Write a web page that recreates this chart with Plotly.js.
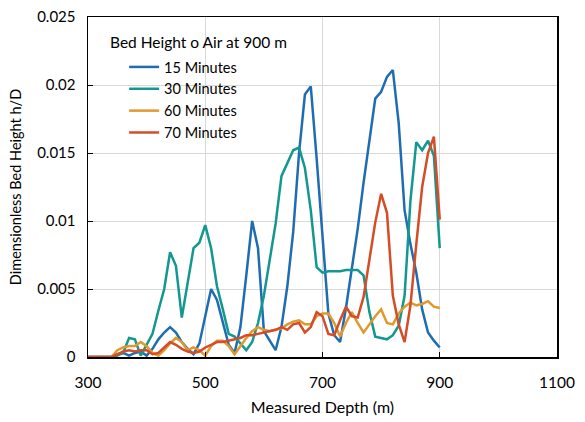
<!DOCTYPE html>
<html>
<head>
<meta charset="utf-8">
<script src="https://cdn.plot.ly/plotly-3.0.1.min.js"></script>
<style>html,body{margin:0;padding:0;background:#fff;}#chart{width:585px;height:422px;}</style>
</head>
<body>
<div id="chart"></div>
<script>
const depth = [300,310,320,330,340,350,360,370,380,390,400,410,420,430,440,450,460,470,480,490,500,510,520,530,540,550,560,570,580,590,600,610,620,630,640,650,660,670,680,690,700,710,720,730,740,750,760,770,780,790,800,810,820,830,840,850,860,870,880,890,900];

const min15 = [0,0,0,0,0,0.0002,0.0003,0.0001,0.0003,0.0004,0.0001,0.0006,0.0013,0.0018,0.0022,0.0018,0.0011,0.0006,0.0002,0.001,0.003,0.005,0.0042,0.0025,0.0009,0.0003,0.0022,0.006,0.01,0.008,0.0019,0.0012,0.0005,0.0022,0.0052,0.0092,0.015,0.0193,0.0199,0.0146,0.0088,0.0032,0.0016,0.0011,0.0036,0.0065,0.0094,0.0128,0.016,0.019,0.0195,0.0206,0.0211,0.0172,0.0108,0.0083,0.0062,0.0035,0.0018,0.0012,0.0007];

const min30 = [0,0,0,0,0,0.0001,0.0003,0.0014,0.0013,0.0001,0.0009,0.0017,0.0034,0.005,0.0077,0.0067,0.0029,0.0055,0.008,0.0084,0.0097,0.008,0.0052,0.0035,0.0017,0.0015,0.001,0.0005,0.0011,0.0025,0.0045,0.0072,0.0098,0.0133,0.0142,0.0152,0.0154,0.0139,0.0108,0.0066,0.0062,0.0063,0.0063,0.0063,0.0064,0.0064,0.0064,0.006,0.0033,0.0015,0.0014,0.0013,0.0016,0.0023,0.0045,0.0115,0.0158,0.0152,0.0159,0.0148,0.008];

const min60 = [0,0,0,0,0,0.0005,0.0007,0.0008,0.0008,0.0011,0.0008,0.0003,0.0001,0.0005,0.001,0.0014,0.0011,0.0005,0.0007,0.0005,0.0001,0.0008,0.0012,0.0012,0.0008,0.0002,0.0008,0.0014,0.0019,0.0022,0.002,0.0019,0.002,0.0021,0.0024,0.0026,0.0027,0.0024,0.0024,0.003,0.0032,0.0032,0.0025,0.0015,0.0025,0.0033,0.0025,0.0018,0.0024,0.003,0.0035,0.0025,0.0024,0.0032,0.0037,0.004,0.0038,0.0039,0.0041,0.0037,0.0036];

const min70 = [0,0,0,0,0,0.0002,0.0004,0.0005,0.0004,0.0005,0.0005,0.0002,0.0003,0.0007,0.0011,0.0009,0.0006,0.0004,0.0003,0.0004,0.0007,0.0009,0.0011,0.0011,0.0012,0.0013,0.0014,0.0016,0.0016,0.0017,0.0018,0.0019,0.002,0.0022,0.002,0.0024,0.0025,0.0018,0.0022,0.0033,0.003,0.0017,0.0016,0.0027,0.0037,0.003,0.0029,0.0044,0.0072,0.0099,0.012,0.0106,0.0045,0.0024,0.0011,0.0038,0.0083,0.0125,0.015,0.0162,0.0101];

const seriesNames = ["15 Minutes","30 Minutes","60 Minutes","70 Minutes"];
const seriesColors = ["#1f6db1","#12988f","#e0982f","#d44d27"];
const xTicks = [300,500,700,900,1100];
const yTicks = [0,0.005,0.01,0.015,0.02,0.025];
const yTickLabels = ["0","0.005","0.01","0.015","0.02","0.025"];

const values = [min15,min30,min60,min70];
const FONT = "Lato, 'Open Sans', sans-serif";

const traces = values.map((v,i)=>({
  x: depth, y: v, type: "scatter", mode: "lines", name: seriesNames[i],
  line: {color: seriesColors[i], width: 2.5}
}));

const layout = {
  width: 585, height: 422,
  margin: {l: 88, r: 28, t: 17, b: 65},
  paper_bgcolor: "#fff", plot_bgcolor: "#fff",
  font: {family: FONT, size: 14, color: "#000"},
  showlegend: true,
  legend: {
    x: 0.077, y: 0.9, xanchor: "left", yanchor: "top",
    bgcolor: "rgba(0,0,0,0)", font: {family: FONT, size: 14.5, color: "#000"},
    tracegroupgap: 0, itemwidth: 30
  },
  annotations: [{
    xref: "paper", yref: "paper", x: 0.042, y: 0.926, xanchor: "left", yanchor: "middle",
    text: "Bed Height o Air at 900 m", showarrow: false,
    font: {family: FONT, size: 15.5, color: "#000"}
  }],
  xaxis: {
    range: [300,1100], tickvals: xTicks, ticktext: xTicks.map(String),
    showgrid: true, gridcolor: "#d9d9d9", gridwidth: 1,
    showline: true, linecolor: "#000", linewidth: 1.5, mirror: true,
    ticks: "inside", ticklen: 5, tickcolor: "#000", ticklabelstandoff: 11,
    zeroline: false,
    title: {text: "Measured Depth (m)", font: {family: FONT, size: 16, color: "#000"}, standoff: 11},
    tickfont: {family: FONT, size: 15.5, color: "#000"}
  },
  yaxis: {
    range: [0,0.025], tickvals: yTicks, ticktext: yTickLabels,
    showgrid: true, gridcolor: "#d9d9d9", gridwidth: 1,
    showline: true, linecolor: "#000", linewidth: 1.5, mirror: true,
    ticks: "inside", ticklen: 5, tickcolor: "#000", ticklabelstandoff: 8,
    zeroline: false,
    title: {text: "Dimensionless Bed Height h/D", font: {family: FONT, size: 14.5, color: "#000"}, standoff: 12},
    tickfont: {family: FONT, size: 15, color: "#000"}
  }
};

Plotly.newPlot("chart", traces, layout, {displayModeBar: false, staticPlot: true});
</script>
</body>
</html>
